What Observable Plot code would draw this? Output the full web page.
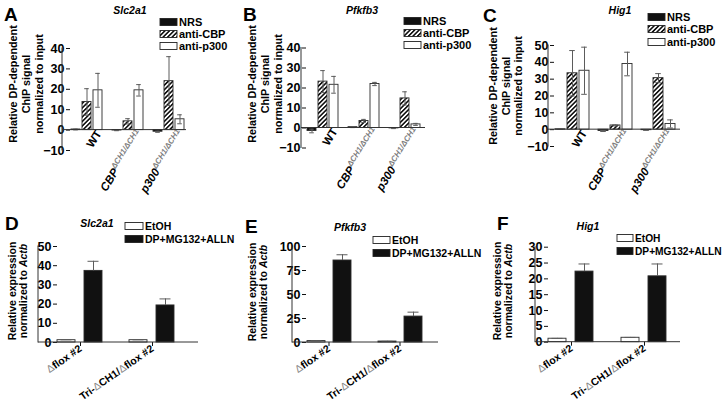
<!DOCTYPE html>
<html>
<head>
<meta charset="utf-8">
<script src="https://cdn.jsdelivr.net/npm/d3@7"></script>
<script src="https://cdn.jsdelivr.net/npm/@observablehq/plot@0.6"></script>
<style>
html,body{margin:0;padding:0;background:#fff;}
#fig{position:relative;width:724px;height:409px;overflow:hidden;background:#fff;}
.panel{position:absolute;}
.panel svg{overflow:visible;display:block;}
.panel svg text{font-weight:bold;}
.panel svg g[aria-label^="y-axis"] text{font-size:12.5px;fill:#000;}
.panel svg g[aria-label^="fx-axis"] text{font-size:10.5px;fill:#000;}
#overlay{position:absolute;left:0;top:0;pointer-events:none;overflow:visible;}
</style>
</head>
<body>
<div id="fig">
<svg width="0" height="0" style="position:absolute;left:0;top:0">
<defs>
<pattern id="hatch" patternUnits="userSpaceOnUse" width="3.2" height="3.2" patternTransform="rotate(45)">
<rect width="3.2" height="3.2" fill="#fff"/>
<rect width="1.6" height="3.2" fill="#111"/>
</pattern>
</defs>
</svg>
</div>
<script>
// ---------- DATA ----------
const TOP_GROUPS = ["WT", "CBPΔCH1/ΔCH1", "p300ΔCH1/ΔCH1"];
const TOP_SERIES = ["NRS", "anti-CBP", "anti-p300"];
const TOP_TICKS = [-10, 0, 10, 20, 30, 40];
const HIG1_CHIP_TICKS = [-10, 0, 10, 20, 30, 40, 50];

// A: Slc2a1 ChIP
const slc2a1ChipNRS = [0.3, -0.2, -0.8];
const slc2a1ChipNRSErr = [0.2, 0.1, 0.3];
const slc2a1ChipCBP = [13.8, 4.3, 24];
const slc2a1ChipCBPErr = [6.5, 1.3, 12];
const slc2a1ChipP300 = [19.5, 19.5, 5.3];
const slc2a1ChipP300Err = [8.3, 2.8, 2.2];

// B: Pfkfb3 ChIP
const pfkfb3ChipNRS = [-1.5, 0.4, -0.2];
const pfkfb3ChipNRSErr = [0.9, 0.2, 0.1];
const pfkfb3ChipCBP = [23.2, 3.5, 14.8];
const pfkfb3ChipCBPErr = [5.5, 0.8, 3.3];
const pfkfb3ChipP300 = [21.6, 22, 1.8];
const pfkfb3ChipP300Err = [4.2, 0.8, 0.5];

// C: Hig1 ChIP
const hig1ChipNRS = [0.2, -0.8, -0.3];
const hig1ChipNRSErr = [0.1, 0.3, 0.1];
const hig1ChipCBP = [33.5, 2.5, 30.6];
const hig1ChipCBPErr = [13.5, 0.3, 2.7];
const hig1ChipP300 = [35, 39, 3.4];
const hig1ChipP300Err = [14, 7, 2.4];

const BOTTOM_GROUPS = ["Δflox #2", "Tri-ΔCH1/Δflox #2"];
const BOTTOM_SERIES = ["EtOH", "DP+MG132+ALLN"];

// D: Slc2a1 expression
const slc2a1ExprEtOH = [1.2, 1.2];
const slc2a1ExprEtOHErr = [0.2, 0.2];
const slc2a1ExprDP = [37.3, 19.3];
const slc2a1ExprDPErr = [5, 3.4];
const SLC2A1_EXPR_TICKS = [0, 10, 20, 30, 40, 50];

// E: Pfkfb3 expression
const pfkfb3ExprEtOH = [1.5, 1.0];
const pfkfb3ExprEtOHErr = [0.3, 0.2];
const pfkfb3ExprDP = [85.4, 27];
const pfkfb3ExprDPErr = [6, 4.6];
const PFKFB3_EXPR_TICKS = [0, 25, 50, 75, 100];

// F: Hig1 expression
const hig1ExprEtOH = [1.1, 1.4];
const hig1ExprEtOHErr = [0.1, 0.1];
const hig1ExprDP = [22.3, 20.8];
const hig1ExprDPErr = [2.4, 3.9];
const HIG1_EXPR_TICKS = [0, 5, 10, 15, 20, 25, 30];

// ---------- HELPERS ----------
const FONT = '"Liberation Sans", Arial, Helvetica, sans-serif';
const NS = "http://www.w3.org/2000/svg";

function chartRows(groups, series, values, errs) {
  const rows = [];
  groups.forEach((g, gi) => series.forEach((s, si) =>
    rows.push({group: g, series: s, v: values[si][gi], e: errs[si][gi]})));
  return rows;
}
// band options so that n groups of width w start L px after the frame's left and end R px before its right
function bandOpts(W, n, L, R, w) {
  const s = (W - L - R - w) / (n - 1);
  return {paddingInner: 1 - w / s, paddingOuter: (L + R) / (2 * s), align: (L + R) > 0 ? L / (L + R) : 0.5};
}
function el(name, attrs, text) {
  const e = document.createElementNS(NS, name);
  for (const k in attrs) e.setAttribute(k, attrs[k]);
  if (text != null) e.textContent = text;
  return e;
}

const panels = [
  {kind: "top", left: 0, top: 0, width: 240, height: 205, mL: 62, mR: 54, mT: 48, mB: 55,
   band: [3, 7, 1, 33], groups: TOP_GROUPS, series: TOP_SERIES, fills: ["#111", "url(#hatch)", "#fff"],
   values: [slc2a1ChipNRS, slc2a1ChipCBP, slc2a1ChipP300], errs: [slc2a1ChipNRSErr, slc2a1ChipCBPErr, slc2a1ChipP300Err],
   domain: [-10, 40], ticks: TOP_TICKS},
  {kind: "top", left: 240, top: 0, width: 240, height: 205, mL: 61, mR: 55, mT: 47.5, mB: 57.5,
   band: [3, 5, 3, 34], groups: TOP_GROUPS, series: TOP_SERIES, fills: ["#111", "url(#hatch)", "#fff"],
   values: [pfkfb3ChipNRS, pfkfb3ChipCBP, pfkfb3ChipP300], errs: [pfkfb3ChipNRSErr, pfkfb3ChipCBPErr, pfkfb3ChipP300Err],
   domain: [-10, 40], ticks: TOP_TICKS},
  {kind: "top", left: 480, top: 0, width: 244, height: 205, mL: 68, mR: 44, mT: 45, mB: 59,
   band: [3, 6, 4, 36], groups: TOP_GROUPS, series: TOP_SERIES, fills: ["#111", "url(#hatch)", "#fff"],
   values: [hig1ChipNRS, hig1ChipCBP, hig1ChipP300], errs: [hig1ChipNRSErr, hig1ChipCBPErr, hig1ChipP300Err],
   domain: [-10, 50], ticks: HIG1_CHIP_TICKS},
  {kind: "bottom", left: 0, top: 205, width: 240, height: 204, mL: 38, mR: 42, mT: 41, mB: 67,
   band: [2, 19, 23, 46], groups: BOTTOM_GROUPS, series: BOTTOM_SERIES, fills: ["#fff", "#111"],
   values: [slc2a1ExprEtOH, slc2a1ExprDP], errs: [slc2a1ExprEtOHErr, slc2a1ExprDPErr],
   domain: [0, 50], ticks: SLC2A1_EXPR_TICKS},
  {kind: "bottom", left: 240, top: 205, width: 240, height: 204, mL: 52, mR: 42, mT: 41, mB: 67,
   band: [2, 14, 15, 45.5], groups: BOTTOM_GROUPS, series: BOTTOM_SERIES, fills: ["#fff", "#111"],
   values: [pfkfb3ExprEtOH, pfkfb3ExprDP], errs: [pfkfb3ExprEtOHErr, pfkfb3ExprDPErr],
   domain: [0, 100], ticks: PFKFB3_EXPR_TICKS},
  {kind: "bottom", left: 480, top: 205, width: 244, height: 204, mL: 55, mR: 44, mT: 41.7, mB: 67.3,
   band: [2, 13, 13, 46], groups: BOTTOM_GROUPS, series: BOTTOM_SERIES, fills: ["#fff", "#111"],
   values: [hig1ExprEtOH, hig1ExprDP], errs: [hig1ExprEtOHErr, hig1ExprDPErr],
   domain: [0, 30], ticks: HIG1_EXPR_TICKS}
];

const fig = document.getElementById("fig");

function decorateLabels(svg) {
  svg.querySelectorAll("text").forEach(t => {
    const s = t.textContent;
    const m = s.match(/^(CBP|p300)(ΔCH1\/ΔCH1)$/);
    if (m) {
      t.textContent = "";
      t.appendChild(el("tspan", {"font-style": "italic"}, m[1]));
      t.appendChild(el("tspan", {"font-style": "italic", "font-size": "8", fill: "#808080", dy: "-4.5"}, m[2]));
    } else if (s.includes("Δ")) {
      t.textContent = "";
      s.split(/(Δ)/).forEach(part => {
        if (!part) return;
        if (part === "Δ") t.appendChild(el("tspan", {fill: "#888", "font-weight": "normal"}, part));
        else t.appendChild(document.createTextNode(part));
      });
    }
  });
}

panels.forEach(p => {
  const rows = chartRows(p.groups, p.series, p.values, p.errs);
  const isTop = p.kind === "top";
  const W = p.width - p.mL - p.mR;
  const fxBand = bandOpts(W, p.band[0], p.band[1], p.band[2], p.band[3]);
  const capInset = isTop ? 2.2 : 3.5;
  const marks = [
    Plot.barY(rows, {x: "series", y: "v", fill: "series", stroke: "#2b2b2b", strokeWidth: 0.9}),
    Plot.ruleX(rows, {x: "series", y1: d => isTop ? d.v - d.e : d.v, y2: d => d.v + d.e, stroke: "#5c5c5c", strokeWidth: 1}),
    Plot.tickY(rows, {x: "series", y: d => d.v + d.e, stroke: "#5c5c5c", strokeWidth: 1, insetLeft: capInset, insetRight: capInset})
  ];
  if (isTop) {
    marks.push(Plot.tickY(rows, {x: "series", y: d => d.v - d.e, stroke: "#5c5c5c", strokeWidth: 1, insetLeft: capInset, insetRight: capInset}));
    marks.push(Plot.text(rows, {filter: d => d.series === p.series[1], x: "series", y: d => 0, text: "group",
      rotate: -58, textAnchor: "end", lineAnchor: "top", dx: 8, dy: -1, fontSize: 11.5, fill: "#000"}));
  }
  const plot = Plot.plot({
    width: p.width, height: p.height,
    marginLeft: p.mL, marginRight: p.mR, marginTop: p.mT, marginBottom: p.mB,
    facet: {data: rows, x: "group"},
    fx: Object.assign({domain: p.groups, label: null}, fxBand,
      isTop ? {axis: null} : {axis: "bottom", tickRotate: -35, tickSize: 4, tickPadding: 1}),
    x: {domain: p.series, paddingInner: isTop ? 0.14 : 0.32, paddingOuter: 0, axis: null},
    y: {domain: p.domain, ticks: p.ticks, tickSize: 4, tickPadding: 2, label: null},
    color: {domain: p.series, range: p.fills, type: "ordinal"},
    style: {background: "transparent", overflow: "visible", fontFamily: FONT, fontWeight: "bold", fontSize: "11px", color: "#111"},
    marks
  });
  // axis lines through the library's y scale
  const ys = plot.scale("y");
  const yAt = v => ys.apply ? ys.apply(v) : ys.range[0] + (v - ys.domain[0]) / (ys.domain[1] - ys.domain[0]) * (ys.range[1] - ys.range[0]);
  const g = el("g", {stroke: "#333", "stroke-width": 1, fill: "none"});
  g.appendChild(el("line", {x1: p.mL, x2: p.width - p.mR, y1: yAt(0), y2: yAt(0)}));
  g.appendChild(el("line", {x1: p.mL, x2: p.mL, y1: yAt(p.domain[0]) + 0.5, y2: yAt(p.domain[1]) - 0.5}));
  plot.appendChild(g);
  decorateLabels(plot);
  const holder = document.createElement("div");
  holder.className = "panel";
  holder.style.left = p.left + "px";
  holder.style.top = p.top + "px";
  holder.style.width = p.width + "px";
  holder.appendChild(plot);
  fig.appendChild(holder);
});

// ---------- OVERLAY: panel letters, titles, axis titles, legends ----------
const ov = el("svg", {id: "overlay", width: 724, height: 409, "font-family": FONT, "font-weight": "bold", fill: "#000"});
fig.appendChild(ov);

const letters = [["A", 4, 21], ["B", 243, 21], ["C", 483, 22], ["D", 5, 230], ["E", 245, 233], ["F", 497, 230]];
letters.forEach(([t, x, y]) => ov.appendChild(el("text", {x, y, "font-size": 19}, t)));

const titles = [["Slc2a1", 130, 14], ["Pfkfb3", 362, 14], ["Hig1", 620, 14], ["Slc2a1", 97, 227], ["Pfkfb3", 350, 231], ["Hig1", 588, 230]];
titles.forEach(([t, x, y]) => ov.appendChild(el("text", {x, y, "font-size": 10.5, "font-style": "italic", "text-anchor": "middle"}, t)));

const chipLines = ["Relative DP-dependent", "ChIP signal", "normalized to input"];
const yTitles = [
  {cy: 84, xs: [17, 30, 43]}, {cy: 84, xs: [256, 269, 282]}, {cy: 86, xs: [497, 510, 522]}
];
yTitles.forEach(({cy, xs}) => chipLines.forEach((line, i) =>
  ov.appendChild(el("text", {transform: `translate(${xs[i]},${cy}) rotate(-90)`, "text-anchor": "middle", "font-size": 10.8}, line))));

const exprTitles = [{cy: 291, xs: [15.5, 26.5]}, {cy: 292, xs: [256, 267]}, {cy: 291, xs: [501, 512]}];
exprTitles.forEach(({cy, xs}) => {
  ov.appendChild(el("text", {transform: `translate(${xs[0]},${cy}) rotate(-90)`, "text-anchor": "middle", "font-size": 10.5}, "Relative expression"));
  const t = el("text", {transform: `translate(${xs[1]},${cy}) rotate(-90)`, "text-anchor": "middle", "font-size": 10.5}, "normalized to ");
  t.appendChild(el("tspan", {"font-style": "italic"}, "Actb"));
  ov.appendChild(t);
});

const chipLegendFills = ["#111", "url(#hatch)", "#fff"];
const exprLegendFills = ["#fff", "#111"];
const legends = [
  {x: 160, w: 17, tx: 179, ys: [22, 34, 46], labels: TOP_SERIES, fills: chipLegendFills, fs: 11},
  {x: 404, w: 17, tx: 423, ys: [21, 33, 45], labels: TOP_SERIES, fills: chipLegendFills, fs: 11},
  {x: 648, w: 17, tx: 667, ys: [17, 29, 42], labels: TOP_SERIES, fills: chipLegendFills, fs: 11},
  {x: 125, w: 18, tx: 145, ys: [226, 239], labels: BOTTOM_SERIES, fills: exprLegendFills, fs: 10.5},
  {x: 373, w: 17, tx: 392, ys: [240, 253], labels: BOTTOM_SERIES, fills: exprLegendFills, fs: 10.5},
  {x: 617, w: 16, tx: 635, ys: [238, 251], labels: BOTTOM_SERIES, fills: exprLegendFills, fs: 10.2}
];
legends.forEach(L => L.labels.forEach((lab, i) => {
  ov.appendChild(el("rect", {x: L.x, y: L.ys[i] - 3.5, width: L.w, height: 7, fill: L.fills[i], stroke: "#222", "stroke-width": 0.9}));
  ov.appendChild(el("text", {x: L.tx, y: L.ys[i] + 4, "font-size": L.fs}, lab));
}));
</script>
</body>
</html>
